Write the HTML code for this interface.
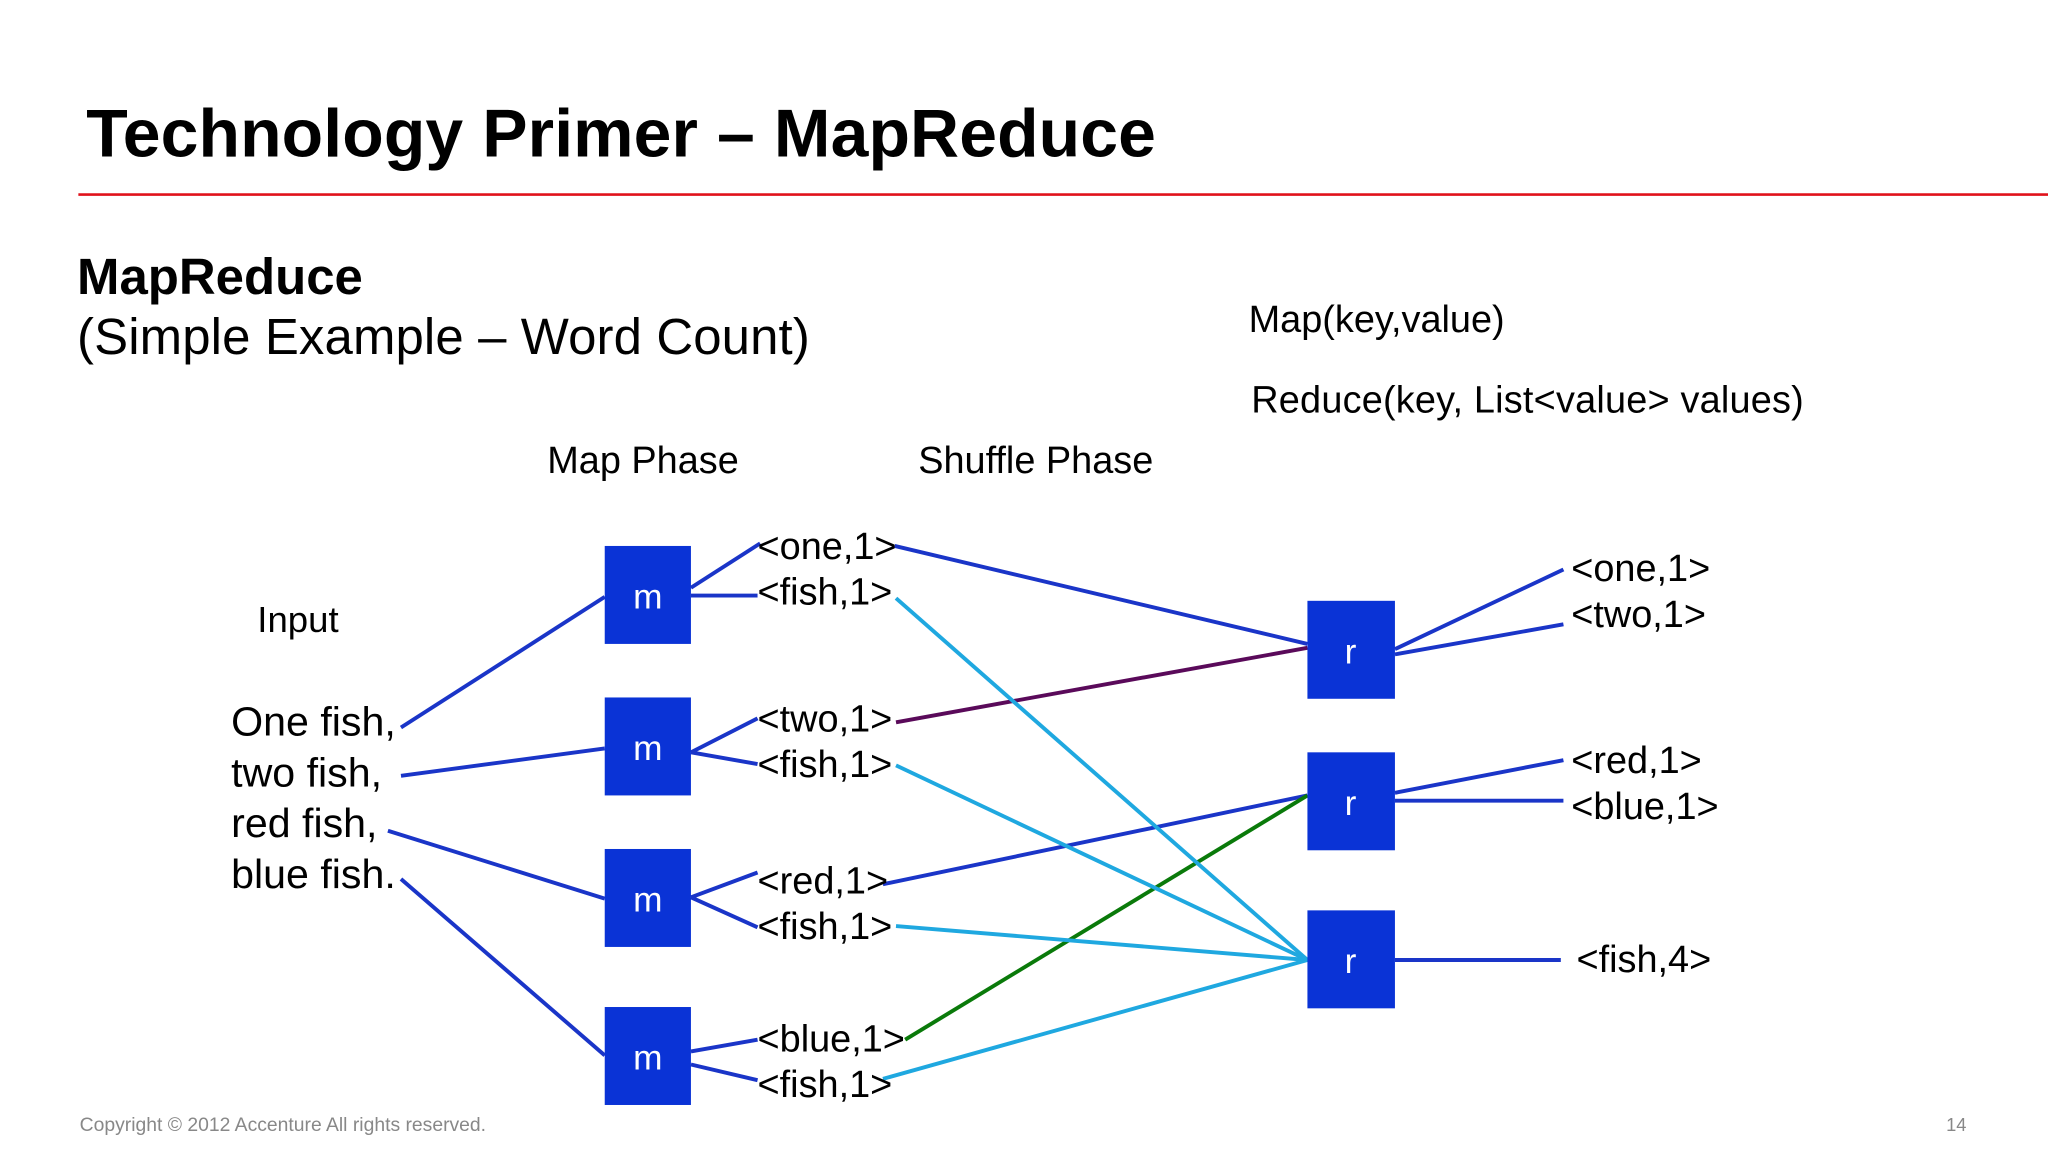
<!DOCTYPE html>
<html><head><meta charset="utf-8"><style>
html,body{margin:0;padding:0;background:#fff;}
svg{display:block;}
text{font-family:"Liberation Sans",sans-serif;fill:#000;}
</style></head><body>
<svg width="2048" height="1152" viewBox="0 0 1568 882" xmlns="http://www.w3.org/2000/svg">
<rect width="1568" height="882" fill="#fff"/>
<text x="66" y="120" font-size="52" font-weight="bold" textLength="819">Technology Primer – MapReduce</text>
<line x1="60" y1="149" x2="1568" y2="149" stroke="#e0121b" stroke-width="2"/>
<text x="59" y="225" font-size="39" font-weight="bold">MapReduce</text>
<text x="59" y="271" font-size="39" textLength="561">(Simple Example – Word Count)</text>
<text x="956" y="254" font-size="29">Map(key,value)</text>
<text x="958" y="316" font-size="29" textLength="423">Reduce(key, List&lt;value&gt; values)</text>
<text x="419" y="362" font-size="29">Map Phase</text>
<text x="703" y="362" font-size="29">Shuffle Phase</text>
<text x="197" y="484" font-size="28">Input</text>
<g font-size="31.5">
<text x="177" y="563">One fish,</text>
<text x="177" y="602">two fish,</text>
<text x="177" y="641">red fish,</text>
<text x="177" y="680">blue fish.</text>
</g>
<g stroke-width="3" fill="none">
<g stroke="#1a35c8">
<line x1="307" y1="557" x2="463" y2="457"/>
<line x1="307" y1="594" x2="463" y2="573"/>
<line x1="297" y1="636" x2="463" y2="688"/>
<line x1="307" y1="673" x2="463" y2="808"/>
<line x1="529" y1="450" x2="582" y2="416"/>
<line x1="529" y1="456" x2="580" y2="456"/>
<line x1="529" y1="576" x2="580" y2="550"/>
<line x1="529" y1="576" x2="580" y2="585"/>
<line x1="529" y1="687" x2="580" y2="668"/>
<line x1="529" y1="687" x2="580" y2="710"/>
<line x1="529" y1="805" x2="580" y2="796"/>
<line x1="529" y1="815" x2="580" y2="827"/>
<line x1="685" y1="418" x2="1001" y2="493"/>
<line x1="676" y1="677" x2="1001" y2="609"/>
<line x1="1068" y1="497" x2="1197" y2="436"/>
<line x1="1068" y1="501" x2="1197" y2="478"/>
<line x1="1068" y1="607" x2="1197" y2="582"/>
<line x1="1068" y1="613" x2="1197" y2="613"/>
<line x1="1068" y1="735" x2="1195" y2="735"/>
</g>
<line x1="686" y1="553" x2="1001" y2="496" stroke="#5a0a5a"/>
<line x1="693" y1="796" x2="1001" y2="609" stroke="#0a7a0a"/>
<g stroke="#1fa8e0">
<line x1="686" y1="458" x2="1001" y2="735"/>
<line x1="686" y1="586" x2="1001" y2="735"/>
<line x1="686" y1="709" x2="1001" y2="735"/>
<line x1="676" y1="826" x2="1001" y2="735"/>
</g>
</g>
<g fill="#0a33d6">
<rect x="463" y="418" width="66" height="75"/>
<rect x="463" y="534" width="66" height="75"/>
<rect x="463" y="650" width="66" height="75"/>
<rect x="463" y="771" width="66" height="75"/>
<rect x="1001" y="460" width="67" height="75"/>
<rect x="1001" y="576" width="67" height="75"/>
<rect x="1001" y="697" width="67" height="75"/>
</g>
<g font-size="27" text-anchor="middle">
<text x="496" y="466" style="fill:#fff">m</text>
<text x="496" y="582" style="fill:#fff">m</text>
<text x="496" y="698" style="fill:#fff">m</text>
<text x="496" y="819" style="fill:#fff">m</text>
<text x="1034" y="508" style="fill:#fff">r</text>
<text x="1034" y="624" style="fill:#fff">r</text>
<text x="1034" y="745" style="fill:#fff">r</text>
</g>
<g font-size="29">
<text x="580" y="428">&lt;one,1&gt;</text>
<text x="580" y="463">&lt;fish,1&gt;</text>
<text x="580" y="560">&lt;two,1&gt;</text>
<text x="580" y="595">&lt;fish,1&gt;</text>
<text x="580" y="684">&lt;red,1&gt;</text>
<text x="580" y="719">&lt;fish,1&gt;</text>
<text x="580" y="805">&lt;blue,1&gt;</text>
<text x="580" y="840">&lt;fish,1&gt;</text>
<text x="1203" y="445">&lt;one,1&gt;</text>
<text x="1203" y="480">&lt;two,1&gt;</text>
<text x="1203" y="592">&lt;red,1&gt;</text>
<text x="1203" y="627">&lt;blue,1&gt;</text>
<text x="1207" y="744">&lt;fish,4&gt;</text>
</g>
<text x="61" y="866" font-size="14.8" style="fill:#888">Copyright © 2012 Accenture  All rights reserved.</text>
<text x="1490" y="866" font-size="14" style="fill:#888">14</text>
</svg>
</body></html>
